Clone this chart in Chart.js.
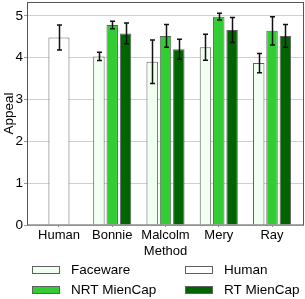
<!DOCTYPE html>
<html><head><meta charset="utf-8">
<script src="https://cdn.jsdelivr.net/npm/chart.js@4"></script>
<style>html,body{margin:0;padding:0;background:#fff;} #wrap{width:305px;height:299px;}</style>
</head><body>
<div id="wrap"><canvas id="c" width="305" height="299"></canvas></div>
<script>
const categories = ['Human','Bonnie','Malcolm','Mery','Ray'];
const seriesNames = ['Faceware','Human','NRT MienCap','RT MienCap'];
const facewareMean = [null, 4.03, 3.90, 4.25, 3.87];
const facewareErr  = [null, 0.10, 0.52, 0.31, 0.23];
const humanMean    = [4.48, null, null, null, null];
const humanErr     = [0.30, null, null, null, null];
const nrtMean      = [null, 4.78, 4.52, 4.98, 4.64];
const nrtErr       = [null, 0.09, 0.27, 0.08, 0.34];
const rtMean       = [null, 4.58, 4.20, 4.66, 4.52];
const rtErr        = [null, 0.25, 0.24, 0.30, 0.27];
const yTickValues  = [0, 1, 2, 3, 4, 5];

const means = [facewareMean, humanMean, nrtMean, rtMean];
const errs  = [facewareErr, humanErr, nrtErr, rtErr];
const fills = ['#f0fff0', '#ffffff', '#32cd32', '#006400'];

function toPoints(arr) {
  const out = [];
  arr.forEach((v, i) => { if (v !== null) out.push({x: i, y: v}); });
  return out;
}

Chart.defaults.font.family = "'Liberation Sans', Arial, sans-serif";
Chart.defaults.font.size = 13;
Chart.defaults.color = '#000';

const datasets = seriesNames.map((name, k) => {
  const ds = {
    label: name,
    data: toPoints(means[k]),
    backgroundColor: fills[k],
    borderColor: '#606060',
    borderWidth: 1,
    errors: errs[k]
  };
  if (name === 'Human') {
    ds.grouped = false;
    ds.categoryPercentage = 1;
    ds.barPercentage = 0.395;
  } else {
    ds.categoryPercentage = 0.75;
    ds.barPercentage = 0.86;
  }
  return ds;
});

const framePlugin = {
  id: 'frame',
  afterDatasetsDraw(chart) {
    const {ctx, chartArea: a} = chart;
    ctx.save();
    ctx.strokeStyle = '#555';
    ctx.lineWidth = 1;
    ctx.strokeRect(a.left + 0.5, a.top + 0.5, a.right - a.left - 1, a.bottom - a.top - 0.5);
    const yS = chart.scales.y;
    ctx.strokeStyle = '#111';
    ctx.lineWidth = 1.5;
    chart.data.datasets.forEach((ds, i) => {
      const meta = chart.getDatasetMeta(i);
      meta.data.forEach((el, j) => {
        const pt = ds.data[j];
        const e = ds.errors[pt.x];
        if (e === null || e === undefined) return;
        const x = Math.round(el.x) + 0.5;
        const y1 = yS.getPixelForValue(pt.y + e);
        const y2 = yS.getPixelForValue(pt.y - e);
        ctx.beginPath();
        ctx.moveTo(x, y1); ctx.lineTo(x, y2);
        ctx.moveTo(x - 2.5, y1); ctx.lineTo(x + 2.5, y1);
        ctx.moveTo(x - 2.5, y2); ctx.lineTo(x + 2.5, y2);
        ctx.stroke();
      });
    });
    ctx.restore();
  }
};

const legendPlugin = {
  id: 'gridLegend',
  afterDraw(chart) {
    const ctx = chart.ctx;
    const colX = [32, 185];
    const rowY = [270, 290];
    ctx.save();
    ctx.font = "13.5px 'Liberation Sans', Arial, sans-serif";
    ctx.textBaseline = 'middle';
    chart.data.datasets.forEach((ds, i) => {
      const bx = colX[i % 2], by = rowY[Math.floor(i / 2)];
      ctx.fillStyle = ds.backgroundColor;
      ctx.fillRect(bx, by - 4, 28, 8);
      ctx.strokeStyle = '#606060';
      ctx.lineWidth = 1;
      ctx.strokeRect(bx + 0.5, by - 4 + 0.5, 27, 7);
      ctx.fillStyle = '#000';
      ctx.fillText(ds.label, bx + 39, by + 0.5);
    });
    ctx.restore();
  }
};

new Chart(document.getElementById('c'), {
  type: 'bar',
  data: { datasets },
  options: {
    responsive: false,
    devicePixelRatio: 1,
    animation: false,
    layout: { padding: { top: 2, right: 1, bottom: 40, left: 0 } },
    plugins: { legend: { display: false }, tooltip: { enabled: false } },
    scales: {
      x: {
        type: 'linear',
        min: -0.6, max: 4.6,
        offset: false,
        grid: { display: true, drawOnChartArea: false, drawTicks: true, tickLength: 2, tickColor: '#888', offset: false },
        border: { display: false },
        ticks: {
          stepSize: 1, includeBounds: false, padding: 1, maxRotation: 0, autoSkip: false,
          font: { size: 13 },
          callback: v => (Number.isInteger(v) && categories[v] !== undefined) ? categories[v] : ''
        },
        title: { display: true, text: 'Method', font: { size: 13 }, padding: { top: 0, bottom: 0 } },
        afterFit: s => { s.height = 34; s.paddingLeft = 0; s.paddingRight = 0; }
      },
      y: {
        min: 0, max: 5.33,
        grid: { color: '#d0d0d0', drawTicks: true, tickLength: 3, tickColor: '#999' },
        border: { display: false },
        ticks: {
          stepSize: 1, includeBounds: false, padding: 1,
          font: { size: 13.5 },
          callback: v => yTickValues.includes(v) ? String(v) : ''
        },
        title: { display: true, text: 'Appeal', font: { size: 13.5 }, padding: { top: 1, bottom: 0 } },
        afterFit: s => { s.width = 27; s.paddingTop = 0; s.paddingBottom = 0; }
      }
    }
  },
  plugins: [framePlugin, legendPlugin]
});
</script>
</body></html>
